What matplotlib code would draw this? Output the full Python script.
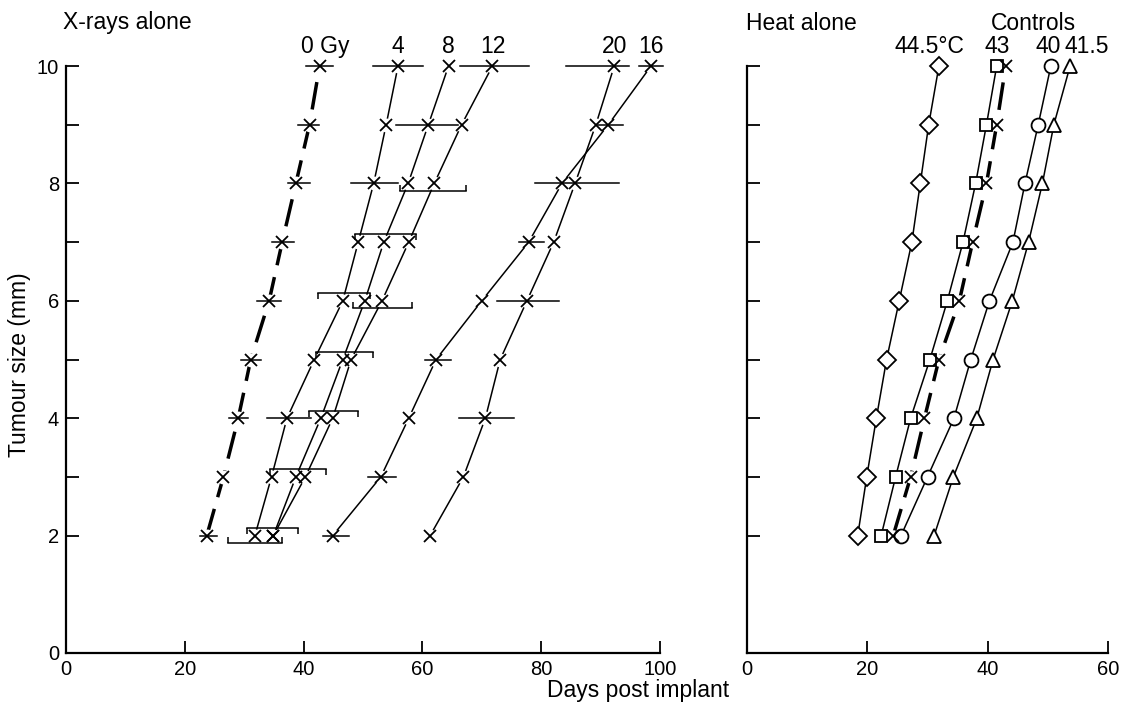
import matplotlib.pyplot as plt
from matplotlib.transforms import ScaledTranslation

plt.rcParams['font.family'] = ['Liberation Sans', 'DejaVu Sans']

# tumour sizes (mm) at which the days were recorded
sizes = [2, 3, 4, 5, 6, 7, 8, 9, 10]

# X-rays alone: days post implant to reach each size
xray_labels = ['0 Gy', '4', '8', '12', '16', '20']
days_0gy = [23.7, 26.5, 29.0, 31.1, 34.2, 36.4, 38.7, 41.0, 42.7]
days_4gy = [31.8, 34.6, 37.2, 41.8, 46.6, 49.2, 51.8, 53.9, 55.9]
days_8gy = [34.9, 38.7, 42.9, 46.6, 50.3, 53.5, 57.6, 61.0, 64.4]
days_12gy = [34.9, 40.3, 44.9, 48.0, 53.2, 57.7, 62.0, 66.6, 71.8]
days_16gy = [44.9, 53.0, 57.7, 62.3, 70.0, 77.9, 83.5, 91.3, 98.5]
days_20gy = [61.3, 66.9, 70.6, 73.1, 77.6, 82.1, 85.7, 89.2, 92.3]

# error bars: (size, low, high, kind)  kind = bar / above / below bracket
bars_0gy = [(10, 40.4, 45.0, 'bar'), (9, 39.1, 42.6, 'bar'), (8, 37.4, 41.1, 'bar'),
            (7, 34.7, 38.4, 'bar'), (6, 32.2, 36.2, 'bar'), (5, 29.4, 32.9, 'bar'),
            (4, 27.4, 30.7, 'bar'), (2, 22.6, 25.4, 'bar')]
bars_4gy = [(10, 51.6, 60.1, 'bar'), (8, 48.0, 55.9, 'bar'), (6, 42.5, 51.1, 'above'),
            (4, 33.9, 41.2, 'bar'), (2, 27.3, 36.4, 'below')]
bars_8gy = [(9, 55.6, 66.0, 'bar'), (7, 48.6, 58.9, 'above'), (5, 42.1, 51.6, 'above'),
            (3, 34.3, 43.8, 'above'), (2, 30.4, 39.1, 'above')]
bars_12gy = [(10, 66.3, 77.9, 'bar'), (8, 56.2, 67.3, 'below'), (6, 48.3, 58.3, 'below'),
             (4, 40.9, 49.1, 'above')]
bars_16gy = [(10, 96.5, 100.5, 'bar'), (9, 89.6, 93.8, 'bar'), (7, 76.2, 80.4, 'bar'),
             (5, 60.4, 64.8, 'bar'), (3, 50.9, 55.6, 'bar'), (2, 43.2, 47.6, 'bar')]
bars_20gy = [(10, 84.1, 94.8, 'bar'), (8, 79.0, 93.1, 'bar'), (6, 72.5, 83.0, 'bar'),
             (4, 66.2, 75.5, 'bar')]

# Heat alone + controls
heat_labels = ['44.5\u00b0C', '43', 'Controls', '40', '41.5']
days_445 = [18.4, 19.9, 21.5, 23.2, 25.3, 27.4, 28.8, 30.2, 31.9]
days_43 = [22.3, 24.7, 27.2, 30.4, 33.3, 35.9, 38.0, 39.8, 41.5]
days_ctrl = [24.3, 27.2, 29.5, 31.9, 35.3, 37.5, 39.8, 41.5, 43.0]
days_40 = [25.6, 30.0, 34.4, 37.2, 40.3, 44.2, 46.2, 48.4, 50.5]
days_415 = [31.1, 34.3, 38.2, 40.9, 44.1, 46.8, 49.1, 51.0, 53.7]

W, H = 1121, 711
FS = 16.5
fig = plt.figure(figsize=(W / 100, H / 100), dpi=100)
ax1 = fig.add_axes([66 / W, 1 - 653 / H, 594 / W, 587 / H])
ax2 = fig.add_axes([747 / W, 1 - 653 / H, 361 / W, 587 / H])

for ax in (ax1, ax2):
    ax.spines[['top', 'right']].set_visible(False)
    ax.spines[['left', 'bottom']].set_linewidth(1.6)
    ax.set_ylim(0, 10)
    ax.tick_params(which='both', direction='in', length=9, width=1.3,
                   labelsize=14.5, pad=5)

ax1.set_xlim(0, 100)
ax1.set_xticks(range(0, 101, 20))
ax1.set_yticks(range(0, 11, 2))
ax1.set_yticks([3, 5, 7, 9], minor=True)
ax2.set_xlim(0, 60)
ax2.set_xticks([0, 20, 40, 60])
ax2.set_yticks(range(2, 11))
ax2.set_yticklabels([])


def shift(ax, dy):
    return ax.transData + ScaledTranslation(0, dy / 72, fig.dpi_scale_trans)


def draw_bars(ax, bars):
    for y, lo, hi, kind in bars:
        if kind == 'bar':
            ax.plot([lo, hi], [y, y], color='k', lw=1.1, zorder=4, clip_on=False)
        elif kind == 'above':
            ax.plot([lo, hi], [y, y], color='k', lw=1.1, zorder=4, clip_on=False,
                    transform=shift(ax, 5.5), marker=3, ms=4, mew=1.1)
        else:
            ax.plot([lo, hi], [y, y], color='k', lw=1.1, zorder=4, clip_on=False,
                    transform=shift(ax, -5.5), marker=2, ms=4, mew=1.1)


xray_series = [days_0gy, days_4gy, days_8gy, days_12gy, days_16gy, days_20gy]
xray_bars = [bars_0gy, bars_4gy, bars_8gy, bars_12gy, bars_16gy, bars_20gy]
for i, (days, bars) in enumerate(zip(xray_series, xray_bars)):
    if i == 0:
        ax1.plot(days, sizes, color='k', lw=2.5, ls=(0, (8, 3.5)), zorder=2)
    else:
        ax1.plot(days, sizes, color='k', lw=1.1, zorder=2)
    # white pads so lines stop short of the markers
    ax1.plot(days, sizes, 'o', ms=10, mfc='white', mec='none', zorder=3, clip_on=False)
    draw_bars(ax1, bars)
    ax1.plot(days, sizes, 'x', ms=9, mew=1.3, color='k', zorder=5, clip_on=False)
    dx = 4 if i == 0 else 0
    ax1.annotate(xray_labels[i], xy=(days[-1], 10), xytext=(dx, 14),
                 textcoords='offset points', ha='center', va='center', fontsize=FS)

heat_series = [days_445, days_43, days_ctrl, days_40, days_415]
heat_markers = ['D', 's', 'x', 'o', '^']
heat_ms = [9, 9, 9, 10, 10]
label_dx = [-7, 0, None, -2, 12]
for days, mk, ms, lab, dx in zip(heat_series, heat_markers, heat_ms, heat_labels, label_dx):
    if mk == 'x':
        ax2.plot(days, sizes, color='k', lw=2.5, ls=(0, (8, 3.5)), zorder=2)
        ax2.plot(days, sizes, 'o', ms=9, mfc='white', mec='none', zorder=3, clip_on=False)
        ax2.plot(days, sizes, 'x', ms=9, mew=1.3, color='k', zorder=5, clip_on=False)
    else:
        ax2.plot(days, sizes, color='k', lw=1.1, marker=mk, ms=ms, mfc='white',
                 mec='k', mew=1.3, zorder=4, clip_on=False)
    if dx is not None:
        ax2.annotate(lab, xy=(days[-1], 10), xytext=(dx, 14),
                     textcoords='offset points', ha='center', va='center', fontsize=FS)

fig.text(63 / W, 1 - 23 / H, 'X-rays alone', va='center', fontsize=FS)
fig.text(746 / W, 1 - 23 / H, 'Heat alone', va='center', fontsize=FS)
fig.text(1033 / W, 1 - 23 / H, heat_labels[2], ha='center', va='center', fontsize=FS)
fig.text(20 / W, 1 - 365 / H, 'Tumour size (mm)', rotation=90,
         ha='center', va='center', fontsize=FS)
fig.text(638 / W, 1 - 690 / H, 'Days post implant', ha='center', va='center', fontsize=FS)

fig.savefig('out.png', dpi=100)
